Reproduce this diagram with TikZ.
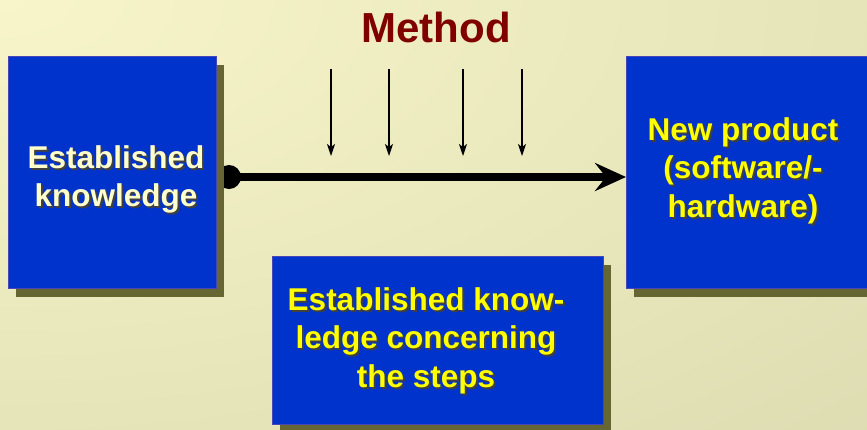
\documentclass[tikz,border=0pt]{standalone}
\usepackage{fontspec}
\setmainfont{Liberation Sans}
\usetikzlibrary{arrows.meta,shadows}
\definecolor{bgA}{HTML}{F7F5C9}
\definecolor{bgB}{HTML}{D4D3A9}
\definecolor{boxblue}{HTML}{0033CC}
\definecolor{shadowol}{HTML}{666633}
\definecolor{cream}{HTML}{FFFFCC}
\definecolor{yel}{HTML}{FFFF00}
\definecolor{methodred}{HTML}{800000}
\newcommand\shtext[1]{\makebox[0pt][l]{\kern2pt\raisebox{-2pt}[0pt][0pt]{\color{black!75}#1}}#1}
\pgfdeclarelayer{back}
\pgfdeclarelayer{mid}
\pgfsetlayers{back,mid,main}
\begin{document}
\begin{tikzpicture}[x=1pt,y=-1pt,
  boxstyle/.style={draw=blue!45!gray, line width=0.6pt, fill=boxblue, inner sep=0pt, anchor=north west,
    drop shadow={shadow xshift=8pt, shadow yshift=-9pt, fill=shadowol, opacity=1, draw=none}},
  boxtext/.style={align=center, inner sep=0pt, anchor=north, font=\fontsize{31.5}{38.5}\selectfont\bfseries},
  smallarrow/.style={line width=1.1pt, -{Stealth[length=12pt,width=8pt,inset=3pt]}},
  mainarrow/.style={line width=8.3pt, -{Stealth[length=31pt,width=28pt,inset=11pt]}}]
\useasboundingbox (0,0) rectangle (867,429);
\begin{pgfonlayer}{back}
\begin{scope}
\clip (0,0) rectangle (867,429);
\shade[inner color=bgA, outer color=bgB] (0,0) ellipse [x radius=1734, y radius=858];
\end{scope}
\end{pgfonlayer}
\begin{scope}
\clip (0,0) rectangle (867,429);
% boxes
\node[boxstyle, minimum width=208pt, minimum height=232pt] (lb) at (8,56) {};
\node[boxstyle, minimum width=250pt, minimum height=232pt] (rb) at (626,56) {};
\node[boxstyle, minimum width=331pt, minimum height=168pt] (bb) at (272,256) {};
% texts
\node[boxtext, text=cream] (lbt) at (116,138) {\rule{0pt}{30pt}\shtext{Established}\\\shtext{knowledge}};
\node[boxtext, text=yel] (rbt) at (743,110) {\rule{0pt}{30pt}\shtext{New product}\\\shtext{(software/-}\\\shtext{hardware)}};
\node[boxtext, text=yel] (bbt) at (426,280) {\rule{0pt}{30pt}\shtext{Established know-}\\\shtext{ledge concerning}\\\shtext{the steps}};
\node[font=\fontsize{42}{50}\selectfont\bfseries, text=methodred, anchor=base, inner sep=0pt] (method) at (436,42) {Method};
% method arrows
\coordinate (a1s) at (331,69); \coordinate (a1e) at (331,156);
\coordinate (a2s) at (389,69); \coordinate (a2e) at (389,156);
\coordinate (a3s) at (463,69); \coordinate (a3e) at (463,156);
\coordinate (a4s) at (522,69); \coordinate (a4e) at (522,156);
\draw[smallarrow] (a1s) -- (a1e);
\draw[smallarrow] (a2s) -- (a2e);
\draw[smallarrow] (a3s) -- (a3e);
\draw[smallarrow] (a4s) -- (a4e);
\end{scope}
\begin{pgfonlayer}{mid}
\node[circle, fill=black, minimum size=24pt, inner sep=0pt] (dot) at (229,177) {};
\draw[mainarrow] (dot.center) -- (dot.center -| rb.west);
\end{pgfonlayer}
\end{tikzpicture}
\end{document}
